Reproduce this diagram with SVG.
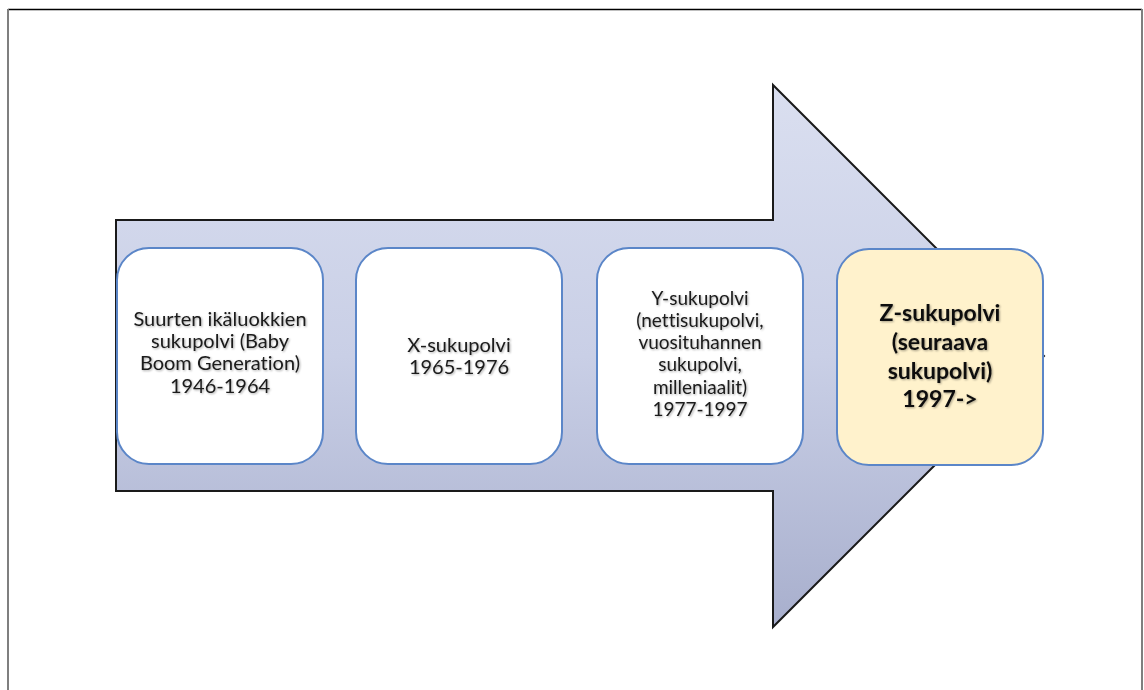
<svg xmlns="http://www.w3.org/2000/svg" width="1144" height="690" viewBox="0 0 1144 690">
<defs>
<linearGradient id="arrowGrad" x1="0" y1="85" x2="0" y2="627" gradientUnits="userSpaceOnUse">
<stop offset="0" stop-color="#dadff0"/>
<stop offset="0.5" stop-color="#c9cfe6"/>
<stop offset="1" stop-color="#a8afcd"/>
</linearGradient>
<filter id="txtShadow" x="-10%" y="-10%" width="120%" height="130%">
<feGaussianBlur in="SourceAlpha" stdDeviation="1.2"/>
<feOffset dx="0.5" dy="1" result="b"/>
<feComponentTransfer><feFuncA type="linear" slope="0.35"/></feComponentTransfer>
<feMerge><feMergeNode/><feMergeNode in="SourceGraphic"/></feMerge>
</filter>
</defs>
<style>
.box{stroke:#5b86c8;stroke-width:2}
.white{fill:#ffffff}
.yellow{fill:#fff2cc}
.t{font-family:Lato,"Liberation Sans","Noto Sans",sans-serif;font-size:20px;fill:#1a1a1a;text-anchor:middle;font-variant-ligatures:none}
.s{font-size:19px}
.tb{font-family:Lato,"Liberation Sans","Noto Sans",sans-serif;font-size:23px;font-weight:bold;fill:#111111;text-anchor:middle}
</style>
<rect x="0" y="0" width="1144" height="690" fill="#ffffff"/>
<line x1="8" y1="9.5" x2="1142" y2="9.5" stroke="#000000" stroke-width="1.5"/>
<line x1="8" y1="9" x2="8" y2="690" stroke="#7f7f7f" stroke-width="2"/>
<line x1="1142" y1="9" x2="1142" y2="690" stroke="#7f7f7f" stroke-width="2"/>
<g id="connectors">
<path d="M116,220 L773,220 L773,85 L1044,356 L773,627 L773,491 L116,491 Z" fill="url(#arrowGrad)" stroke="#1a1a1a" stroke-width="2" stroke-linejoin="miter"/>
</g>
<g id="node1">
<rect class="box white" x="117" y="248" width="206" height="216" rx="32"/>
<g filter="url(#txtShadow)">
<text class="t" x="220" y="326">Suurten ikäluokkien</text>
<text class="t" x="220" y="348">sukupolvi (Baby</text>
<text class="t" x="220" y="370">Boom Generation)</text>
<text class="t" x="220" y="393">1946-1964</text>
</g>
</g>
<g id="node2">
<rect class="box white" x="356" y="248" width="206" height="216" rx="32"/>
<g filter="url(#txtShadow)">
<text class="t" x="459" y="352">X-sukupolvi</text>
<text class="t" x="459" y="374">1965-1976</text>
</g>
</g>
<g id="node3">
<rect class="box white" x="597" y="248" width="206" height="216" rx="32"/>
<g filter="url(#txtShadow)">
<text class="t s" x="700" y="305">Y-sukupolvi</text>
<text class="t s" x="700" y="327">(nettisukupolvi,</text>
<text class="t s" x="700" y="349">vuosituhannen</text>
<text class="t s" x="700" y="371">sukupolvi,</text>
<text class="t s" x="700" y="394">milleniaalit)</text>
<text class="t s" x="700" y="416">1977-1997</text>
</g>
</g>
<g id="node4">
<rect class="box yellow" x="837" y="249" width="206" height="216" rx="32"/>
<g filter="url(#txtShadow)">
<text class="tb" x="940" y="321">Z-sukupolvi</text>
<text class="tb" x="940" y="350">(seuraava</text>
<text class="tb" x="940" y="379">sukupolvi)</text>
<text class="tb" x="940" y="407">1997-&gt;</text>
</g>
</g>
</svg>
